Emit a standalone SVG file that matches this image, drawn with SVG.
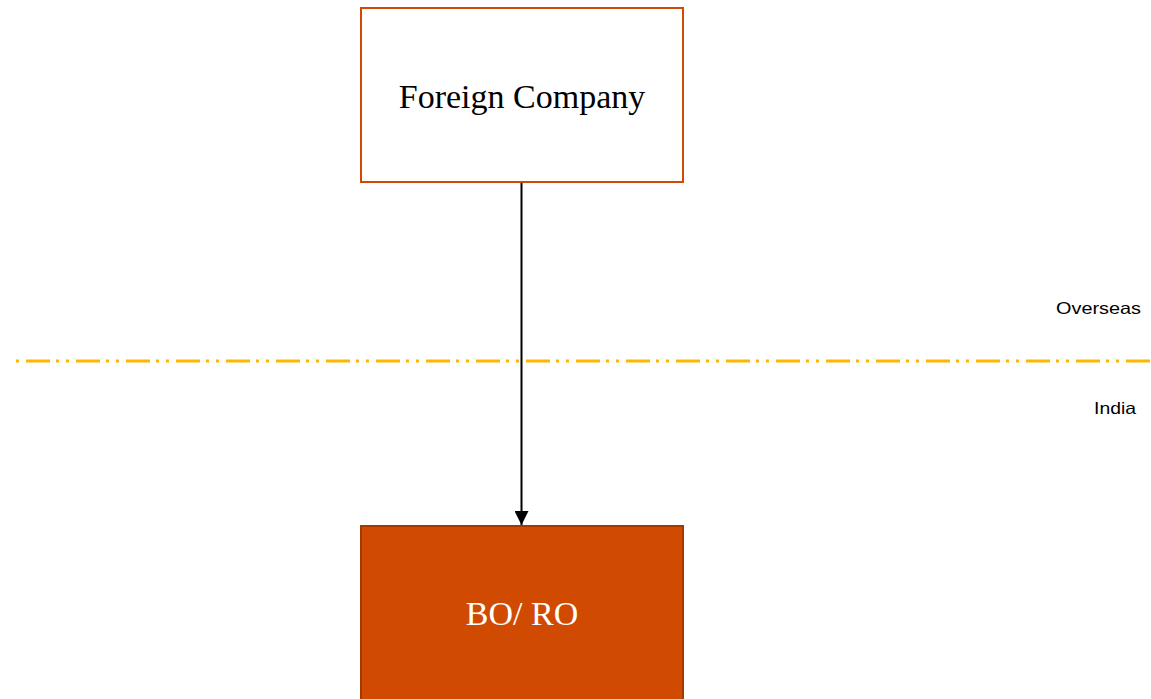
<svg xmlns="http://www.w3.org/2000/svg" width="1151" height="699" viewBox="0 0 1151 699">
  <defs>
    <marker id="arrowhead" viewBox="0 0 14 14" refX="14" refY="7" markerWidth="14" markerHeight="14" markerUnits="userSpaceOnUse" orient="auto">
      <path d="M0,0 L14,7 L0,14 Z" fill="#000000"/>
    </marker>
    <style>
      .box-outline { fill: #ffffff; stroke: #D04A02; stroke-width: 2; }
      .box-filled { fill: #D04A02; stroke: #A33A00; stroke-width: 2; }
      .node-label { font-family: "Liberation Serif", "Times New Roman", serif; font-size: 34px; text-anchor: middle; }
      .region-label { font-family: "Liberation Sans", Arial, sans-serif; font-size: 16.5px; fill: #000000; }
      .boundary { stroke: #FFB600; stroke-width: 3; stroke-dasharray: 24 6 3 7 3 7; fill: none; }
      .connector { stroke: #000000; stroke-width: 2; fill: none; }
    </style>
  </defs>
  <rect width="1151" height="699" fill="#ffffff"/>

  <!-- Border between overseas and India -->
  <g id="boundary">
    <line class="boundary" x1="16" y1="361" x2="1151" y2="361" stroke-dashoffset="40"/>
    <text class="region-label" x="1056" y="314" textLength="85" lengthAdjust="spacingAndGlyphs">Overseas</text>
    <text class="region-label" x="1094" y="414" textLength="42" lengthAdjust="spacingAndGlyphs">India</text>
  </g>

  <g id="connectors">
    <line class="connector" x1="521.5" y1="182" x2="521.5" y2="525" marker-end="url(#arrowhead)"/>
  </g>

  <g id="foreign-company">
    <rect class="box-outline" x="361" y="8" width="322" height="174"/>
    <text class="node-label" x="522" y="108" fill="#000000">Foreign Company</text>
  </g>

  <g id="bo-ro">
    <rect class="box-filled" x="361" y="526" width="322" height="190"/>
    <text class="node-label" x="522" y="625" fill="#ffffff">BO/ RO</text>
  </g>
</svg>
